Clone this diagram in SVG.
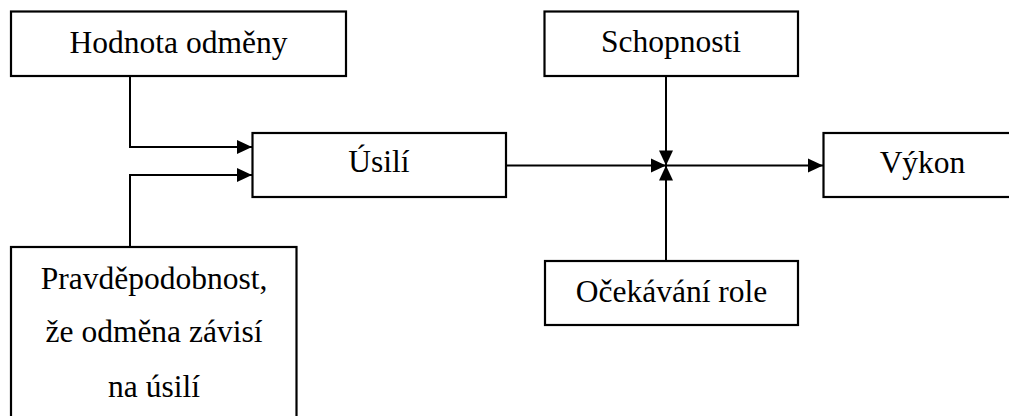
<svg xmlns="http://www.w3.org/2000/svg" width="1009" height="416" viewBox="0 0 1009 416">
  <defs>
    <marker id="arrow" markerUnits="userSpaceOnUse" markerWidth="17" markerHeight="16" refX="15" refY="7" orient="auto" overflow="visible">
      <path d="M0,0 L15,7 L0,14 z" fill="#000"/>
    </marker>
    <style>
      .box { fill: #fff; stroke: #000; stroke-width: 2.2; }
      .lbl { font-family: "Liberation Serif", "Times New Roman", "DejaVu Serif", serif; font-size: 31.5px; fill: #000; text-anchor: middle; }
      .conn { fill: none; stroke: #000; stroke-width: 2; marker-end: url(#arrow); }
    </style>
  </defs>
  <rect width="1009" height="416" fill="#fff"/>

  <g id="connectors">
    <path class="conn" d="M130,76 V147 H252"/>
    <path class="conn" d="M130,247 V175 H252"/>
    <path class="conn" d="M506,165.5 H666"/>
    <path class="conn" d="M666,76 V165.5"/>
    <path class="conn" d="M666,261 V165.5"/>
    <path class="conn" d="M666,165.5 H823"/>
  </g>

  <g id="node-hodnota">
    <rect class="box" x="11" y="11.5" width="335" height="64.5"/>
    <text class="lbl" x="178.5" y="52.5">Hodnota odměny</text>
  </g>

  <g id="node-pravdepodobnost">
    <rect class="box" x="11" y="247" width="285.5" height="190"/>
    <text class="lbl" x="154" y="289">Pravděpodobnost,</text>
    <text class="lbl" x="154" y="342">že odměna závisí</text>
    <text class="lbl" x="154" y="397">na úsilí</text>
  </g>

  <g id="node-usili">
    <rect class="box" x="252.5" y="133" width="253.5" height="64"/>
    <text class="lbl" x="379" y="172">Úsilí</text>
  </g>

  <g id="node-schopnosti">
    <rect class="box" x="544.5" y="11.5" width="253.5" height="64.5"/>
    <text class="lbl" x="671" y="52">Schopnosti</text>
  </g>

  <g id="node-ocekavani">
    <rect class="box" x="545" y="261" width="253" height="64"/>
    <text class="lbl" x="671.5" y="302">Očekávání role</text>
  </g>

  <g id="node-vykon">
    <rect class="box" x="823.5" y="133" width="200" height="64"/>
    <text class="lbl" x="922.5" y="173">Výkon</text>
  </g>
</svg>
